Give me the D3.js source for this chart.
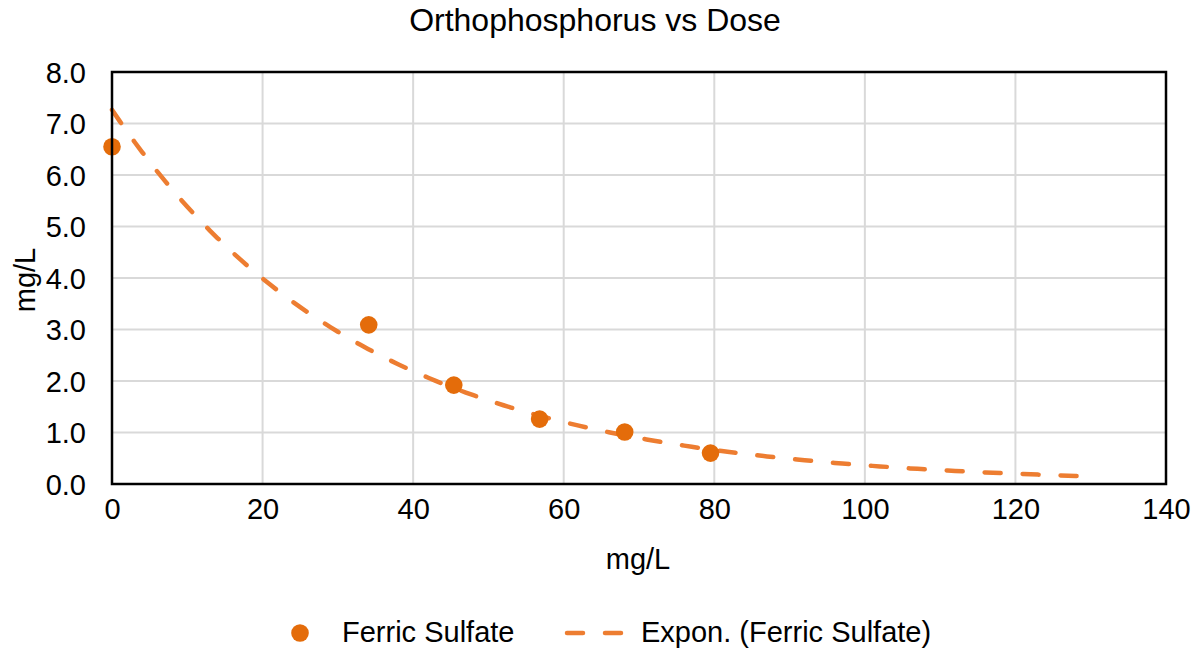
<!DOCTYPE html>
<html><head><meta charset="utf-8">
<script src="https://cdn.jsdelivr.net/npm/d3@7"></script>
<style>body{margin:0;background:#fff;} text{font-family:"Liberation Sans",Arial,sans-serif;fill:#000;}</style>
</head><body>
<svg id="chart" width="1197" height="649"></svg>
<script>
const doses = [0, 34.1, 45.4, 56.8, 68.1, 79.5];
const ortho = [6.55, 3.09, 1.92, 1.26, 1.01, 0.60];
const xTicks = [0, 20, 40, 60, 80, 100, 120, 140];
const yTicks = [0, 1, 2, 3, 4, 5, 6, 7, 8];
const trendEnd = 130;

const svg = d3.select("#chart");
const m = {l:112, r:1166, t:72, b:484};
const x = d3.scaleLinear().domain([0,140]).range([m.l, m.r]);
const y = d3.scaleLinear().domain([0,8]).range([m.b, m.t]);
const FS = "29px";

// exponential least squares fit (Excel trendline)
const n = doses.length;
const lx = doses, ly = ortho.map(Math.log);
const mx = d3.mean(lx), my = d3.mean(ly);
let sxy=0, sxx=0;
for (let i=0;i<n;i++){ sxy += (lx[i]-mx)*(ly[i]-my); sxx += (lx[i]-mx)**2; }
const b = sxy/sxx, a = Math.exp(my - b*mx);
const trend = d3.range(0, trendEnd+0.001, 1).map(v => [v, a*Math.exp(b*v)]);

// grid
svg.append("g").selectAll("line.h").data(yTicks.slice(1,-1)).join("line")
  .attr("x1", m.l).attr("x2", m.r).attr("y1", d=>y(d)).attr("y2", d=>y(d))
  .attr("stroke", "#d9d9d9").attr("stroke-width", 2);
svg.append("g").selectAll("line.v").data(xTicks.slice(1,-1)).join("line")
  .attr("y1", m.t).attr("y2", m.b).attr("x1", d=>x(d)).attr("x2", d=>x(d))
  .attr("stroke", "#d9d9d9").attr("stroke-width", 2);

// axes labels
const yAxis = svg.append("g").attr("transform", `translate(${m.l},0)`)
  .call(d3.axisLeft(y).tickValues(yTicks).tickFormat(d3.format(".1f")).tickSize(0).tickPadding(26));
yAxis.select(".domain").remove();
yAxis.selectAll("text").style("font-size",FS).style("font-family","Liberation Sans, Arial").attr("dy","0.36em");
const xAxis = svg.append("g").attr("transform", `translate(0,${m.b})`)
  .call(d3.axisBottom(x).tickValues(xTicks).tickFormat(d3.format("d")).tickSize(0).tickPadding(14));
xAxis.select(".domain").remove();
xAxis.selectAll("text").style("font-size",FS).style("font-family","Liberation Sans, Arial");

// trendline
const ec = "#ED7D31";
svg.append("path").datum(trend)
  .attr("d", d3.line().x(d=>x(d[0])).y(d=>y(d[1])))
  .attr("fill","none").attr("stroke", ec).attr("stroke-width", 4.5)
  .attr("stroke-dasharray","16,22").attr("stroke-linecap","round");

// points
svg.append("g").selectAll("circle").data(doses.map((d,i)=>[d, ortho[i]])).join("circle")
  .attr("cx", d=>x(d[0])).attr("cy", d=>y(d[1])).attr("r", 8.8).attr("fill", "#E46C0A");

// border
svg.append("rect").attr("x", m.l).attr("y", m.t).attr("width", m.r-m.l).attr("height", m.b-m.t)
  .attr("fill","none").attr("stroke","#000").attr("stroke-width",2.5);

// title & axis titles
svg.append("text").attr("x", 595).attr("y", 31).attr("text-anchor","middle").style("font-size","32px").text("Orthophosphorus vs Dose");
svg.append("text").attr("x", 638).attr("y", 569).attr("text-anchor","middle").style("font-size",FS).text("mg/L");
svg.append("text").attr("transform","translate(35,280) rotate(-90)").attr("text-anchor","middle").style("font-size",FS).text("mg/L");

// legend
const lg = svg.append("g");
lg.append("circle").attr("cx", 300).attr("cy", 633).attr("r", 8.8).attr("fill","#E46C0A");
lg.append("text").attr("x", 342).attr("y", 642).style("font-size",FS).text("Ferric Sulfate");
lg.append("line").attr("x1", 567).attr("x2", 621).attr("y1", 633).attr("y2", 633)
  .attr("stroke", ec).attr("stroke-width", 4.5).attr("stroke-dasharray","16,22").attr("stroke-linecap","round");
lg.append("text").attr("x", 641).attr("y", 642).style("font-size",FS).text("Expon. (Ferric Sulfate)");
</script>
</body></html>
